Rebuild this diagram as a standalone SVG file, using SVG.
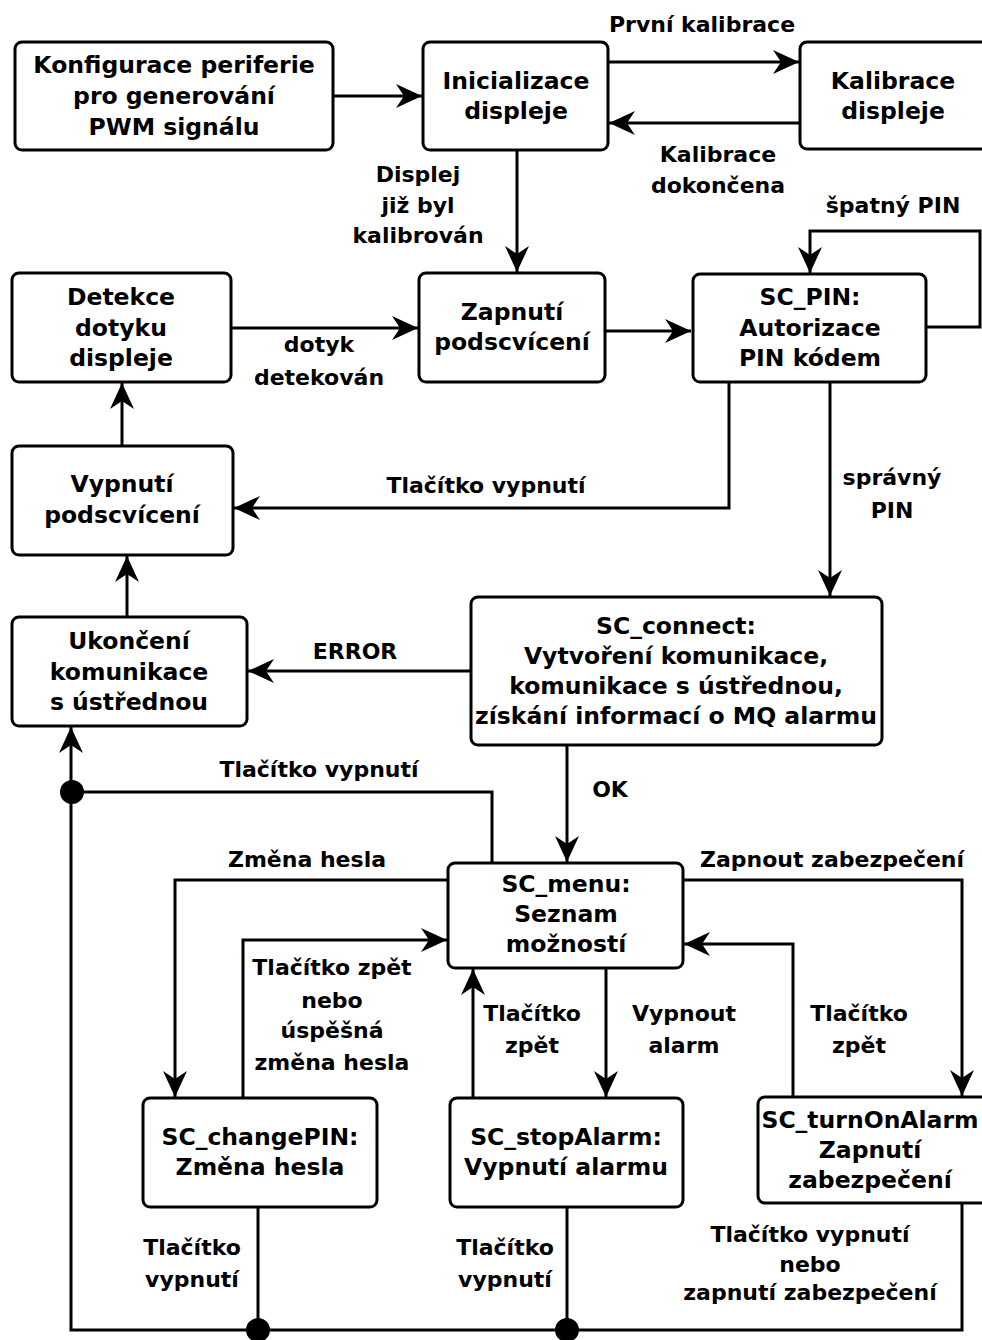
<svg xmlns="http://www.w3.org/2000/svg" width="982" height="1340" viewBox="0 0 982 1340">
  <style>
    .node rect { fill: #ffffff; stroke: #000000; stroke-width: 3; }
    .node text { font-family: "DejaVu Sans", Verdana, sans-serif; font-weight: bold; font-size: 23.5px; fill: #000000; text-anchor: middle; }
    .edges path { fill: none; stroke: #000000; stroke-width: 3; }
    .edges .arrow { marker-end: url(#head); }
    .labels text { font-family: "DejaVu Sans", Verdana, sans-serif; font-weight: bold; font-size: 22px; fill: #000000; text-anchor: middle; }
    .dot { fill: #000000; }
  </style>
  <defs>
    <marker id="head" viewBox="-27 -13 28 26" refX="0" refY="0" markerWidth="28" markerHeight="26" markerUnits="userSpaceOnUse" orient="auto">
      <path d="M0,0 L-26,-12 L-18,0 L-26,12 Z" fill="#000000"/>
    </marker>
  </defs>
  <rect width="982" height="1340" fill="#ffffff"/>

  <!-- connectors -->
  <g id="connectors" class="edges">
    <path class="arrow" d="M333,96 L422,96"/>
    <path class="arrow" d="M608,62 L799,62"/>
    <path class="arrow" d="M800,123 L609,123"/>
    <path class="arrow" d="M517,150 L517,272"/>
    <path class="arrow" d="M231,328 L418,328"/>
    <path class="arrow" d="M605,331 L691,331"/>
    <path class="arrow" d="M926,327 L980,327 L980,231 L810,231 L810,273"/>
    <path class="arrow" d="M729,382 L729,508 L234,508"/>
    <path class="arrow" d="M830,382 L830,596"/>
    <path class="arrow" d="M122,446 L122,383"/>
    <path class="arrow" d="M127,617 L127,556"/>
    <path class="arrow" d="M471,671 L248,671"/>
    <path class="arrow" d="M567,745 L567,862"/>
    <path d="M492,863 L492,792 L72,792"/>
    <path class="arrow" d="M448,880 L175,880 L175,1097"/>
    <path class="arrow" d="M243,1098 L243,940 L447,940"/>
    <path class="arrow" d="M683,880 L962,880 L962,1096"/>
    <path class="arrow" d="M793,1097 L793,944 L684,944"/>
    <path class="arrow" d="M606,968 L606,1097"/>
    <path class="arrow" d="M473,1098 L473,969"/>
    <path d="M258,1207 L258,1330"/>
    <path d="M567,1207 L567,1330"/>
    <path class="arrow" d="M962,1203 L962,1330 L71,1330 L71,727"/>
    <circle class="dot" cx="72" cy="792" r="12"/>
    <circle class="dot" cx="258" cy="1330" r="12"/>
    <circle class="dot" cx="567" cy="1330" r="12"/>
  </g>

  <!-- connector labels -->
  <g id="edge-labels" class="labels">
    <text x="702" y="32">První kalibrace</text>
    <text x="718" y="162">Kalibrace</text>
    <text x="718" y="193">dokončena</text>
    <text x="893" y="213">špatný PIN</text>
    <text x="418" y="182">Displej</text>
    <text x="418" y="213">již byl</text>
    <text x="418" y="243">kalibrován</text>
    <text x="319" y="352">dotyk</text>
    <text x="319" y="385">detekován</text>
    <text x="486" y="493">Tlačítko vypnutí</text>
    <text x="892" y="485">správný</text>
    <text x="892" y="518">PIN</text>
    <text x="355" y="659">ERROR</text>
    <text x="610" y="797">OK</text>
    <text x="319" y="777">Tlačítko vypnutí</text>
    <text x="307" y="867">Změna hesla</text>
    <text x="832" y="867">Zapnout zabezpečení</text>
    <text x="332" y="975">Tlačítko zpět</text>
    <text x="332" y="1008">nebo</text>
    <text x="332" y="1038">úspěšná</text>
    <text x="332" y="1070">změna hesla</text>
    <text x="532" y="1021">Tlačítko</text>
    <text x="532" y="1053">zpět</text>
    <text x="684" y="1021">Vypnout</text>
    <text x="684" y="1053">alarm</text>
    <text x="859" y="1021">Tlačítko</text>
    <text x="859" y="1053">zpět</text>
    <text x="810" y="1242">Tlačítko vypnutí</text>
    <text x="810" y="1272">nebo</text>
    <text x="810" y="1300">zapnutí zabezpečení</text>
    <text x="192" y="1255">Tlačítko</text>
    <text x="192" y="1287">vypnutí</text>
    <text x="505" y="1255">Tlačítko</text>
    <text x="505" y="1287">vypnutí</text>
  </g>

  <!-- states -->
  <g id="config-pwm" class="node">
    <rect x="15" y="42" width="318" height="108" rx="7"/>
    <text x="174" y="73">Konfigurace periferie</text>
    <text x="174" y="104">pro generování</text>
    <text x="174" y="135">PWM signálu</text>
  </g>
  <g id="init-display" class="node">
    <rect x="423" y="42" width="185" height="108" rx="7"/>
    <text x="516" y="89">Inicializace</text>
    <text x="516" y="119">displeje</text>
  </g>
  <g id="calibrate-display" class="node">
    <rect x="800" y="42" width="195" height="107" rx="7"/>
    <text x="893" y="89">Kalibrace</text>
    <text x="893" y="119">displeje</text>
  </g>
  <g id="touch-detect" class="node">
    <rect x="12" y="273" width="219" height="109" rx="7"/>
    <text x="121" y="305">Detekce</text>
    <text x="121" y="336">dotyku</text>
    <text x="121" y="366">displeje</text>
  </g>
  <g id="backlight-on" class="node">
    <rect x="419" y="273" width="186" height="109" rx="7"/>
    <text x="512" y="320">Zapnutí</text>
    <text x="512" y="350">podscvícení</text>
  </g>
  <g id="sc-pin" class="node">
    <rect x="693" y="274" width="233" height="108" rx="7"/>
    <text x="810" y="305">SC_PIN:</text>
    <text x="810" y="336">Autorizace</text>
    <text x="810" y="366">PIN kódem</text>
  </g>
  <g id="backlight-off" class="node">
    <rect x="12" y="446" width="221" height="109" rx="7"/>
    <text x="122" y="492">Vypnutí</text>
    <text x="122" y="523">podscvícení</text>
  </g>
  <g id="end-comm" class="node">
    <rect x="12" y="617" width="235" height="109" rx="7"/>
    <text x="129" y="649">Ukončení</text>
    <text x="129" y="680">komunikace</text>
    <text x="129" y="710">s ústřednou</text>
  </g>
  <g id="sc-connect" class="node">
    <rect x="471" y="597" width="411" height="148" rx="7"/>
    <text x="676" y="634">SC_connect:</text>
    <text x="676" y="664">Vytvoření komunikace,</text>
    <text x="676" y="694">komunikace s ústřednou,</text>
    <text x="676" y="724">získání informací o MQ alarmu</text>
  </g>
  <g id="sc-menu" class="node">
    <rect x="448" y="863" width="235" height="105" rx="7"/>
    <text x="566" y="892">SC_menu:</text>
    <text x="566" y="922">Seznam</text>
    <text x="566" y="952">možností</text>
  </g>
  <g id="sc-changepin" class="node">
    <rect x="143" y="1098" width="234" height="109" rx="7"/>
    <text x="260" y="1145">SC_changePIN:</text>
    <text x="260" y="1175">Změna hesla</text>
  </g>
  <g id="sc-stopalarm" class="node">
    <rect x="450" y="1098" width="233" height="109" rx="7"/>
    <text x="566" y="1145">SC_stopAlarm:</text>
    <text x="566" y="1175">Vypnutí alarmu</text>
  </g>
  <g id="sc-turnonalarm" class="node">
    <rect x="758" y="1097" width="236" height="106" rx="7"/>
    <text x="870" y="1128">SC_turnOnAlarm</text>
    <text x="870" y="1158">Zapnutí</text>
    <text x="870" y="1188">zabezpečení</text>
  </g>
</svg>
